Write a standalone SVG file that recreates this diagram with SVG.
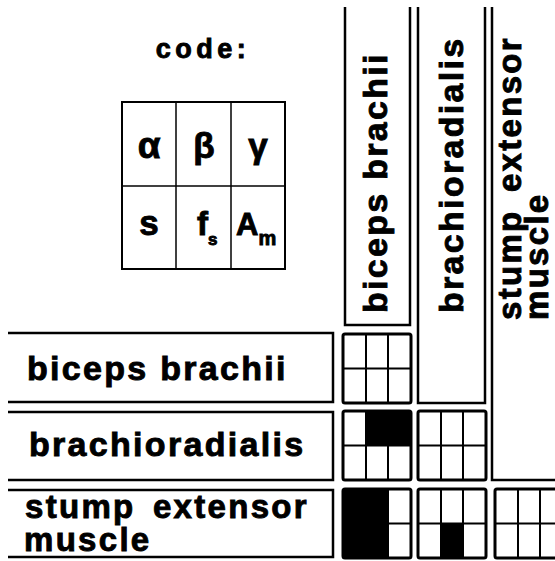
<svg xmlns="http://www.w3.org/2000/svg" width="555" height="561" viewBox="0 0 555 561">
<style>
  .lbl { font-family: "Liberation Sans", Arial, sans-serif; font-weight: bold; font-size: 34px; fill: #000; stroke: #000; stroke-width: 0.9; letter-spacing: 2.3px; }
  .two { font-size: 33px; word-spacing: 6px; }
  .box { fill: none; stroke: #000; stroke-width: 2.5; }
  .gout { fill: none; stroke: #000; stroke-width: 3; }
  .gin { stroke: #000; stroke-width: 2; }
  .cell { fill: #000; }
  .code { fill: none; stroke: #000; stroke-width: 2; }
  .codein { stroke: #000; stroke-width: 1.5; }
  .sym { font-family: "Liberation Sans", Arial, sans-serif; font-weight: bold; fill: #000; stroke: #000; stroke-width: 0.9; }
</style>
<defs>
  <g id="grid">
    <line class="gin" x1="23" y1="0" x2="23" y2="69"/>
    <line class="gin" x1="45" y1="0" x2="45" y2="69"/>
    <line class="gin" x1="0" y1="34.5" x2="68" y2="34.5"/>
    <rect class="gout" x="0" y="0" width="68" height="69" rx="2"/>
  </g>
</defs>

<g id="legend">
  <text class="lbl" x="203" y="58" text-anchor="middle" style="font-size:27px;letter-spacing:4.5px">code:</text>
  <rect class="code" x="122" y="102" width="163" height="167"/>
  <line class="codein" x1="176" y1="102" x2="176" y2="269"/>
  <line class="codein" x1="231" y1="102" x2="231" y2="269"/>
  <line class="codein" x1="122" y1="186" x2="285" y2="186"/>
  <text class="sym" x="149" y="158" text-anchor="middle" font-size="37">α</text>
  <text class="sym" x="204" y="158" text-anchor="middle" font-size="35">β</text>
  <text class="sym" x="258" y="158" text-anchor="middle" font-size="35">γ</text>
  <text class="sym" x="149" y="235" text-anchor="middle" font-size="35">s</text>
  <text class="sym" x="197" y="235" font-size="33">f<tspan font-size="17" dy="10">s</tspan></text>
  <text class="sym" x="236" y="235" font-size="31">A<tspan font-size="20" dy="10">m</tspan></text>
</g>

<g id="col-biceps">
  <path class="box" d="M345,7 V325 H410 V7"/>
  <text class="lbl" transform="translate(387,313) rotate(-90)">biceps brachii</text>
</g>
<g id="col-brachioradialis">
  <path class="box" d="M418,7 V403 H485 V7"/>
  <text class="lbl" transform="translate(463,313) rotate(-90)">brachioradialis</text>
</g>
<g id="col-stump">
  <path class="box" d="M492,7 V480 H557"/>
  <text class="lbl two" transform="translate(521,320) rotate(-90)">stump extensor</text>
  <text class="lbl two" transform="translate(548,320) rotate(-90)">muscle</text>
</g>

<g id="row-biceps">
  <path class="box" d="M8,333 H333 V402 H8"/>
  <text class="lbl" x="27" y="380">biceps brachii</text>
</g>
<g id="row-brachioradialis">
  <path class="box" d="M8,412 H333 V480 H8"/>
  <text class="lbl" x="29" y="456">brachioradialis</text>
</g>
<g id="row-stump">
  <path class="box" d="M8,490 H333 V557 H8"/>
  <text class="lbl two" x="25" y="518">stump extensor</text>
  <text class="lbl two" x="24" y="551">muscle</text>
</g>

<g id="grid-r1c1">
  <use href="#grid" x="343" y="334"/>
</g>
<g id="grid-r2c1">
  <rect class="cell" x="366" y="411" width="45" height="35"/>
  <use href="#grid" x="343" y="411"/>
</g>
<g id="grid-r2c2">
  <use href="#grid" x="418" y="411"/>
</g>
<g id="grid-r3c1">
  <rect class="cell" x="343" y="489" width="45" height="69"/>
  <use href="#grid" x="343" y="489"/>
</g>
<g id="grid-r3c2">
  <rect class="cell" x="441" y="523" width="22" height="35"/>
  <use href="#grid" x="418" y="489"/>
</g>
<g id="grid-r3c3">
  <use href="#grid" x="495" y="489"/>
</g>
<g id="connectors"></g>
</svg>
